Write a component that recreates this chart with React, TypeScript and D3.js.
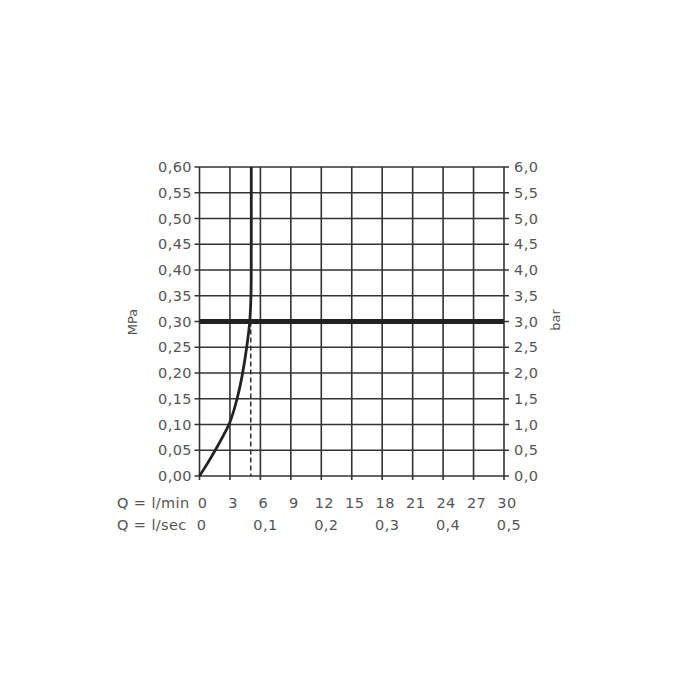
import React from "react";
import * as d3 from "d3";

const flowTicks = [0, 3, 6, 9, 12, 15, 18, 21, 24, 27, 30];
const secTicks = [0, 0.1, 0.2, 0.3, 0.4, 0.5];
const mpaTicks = [0, 0.05, 0.1, 0.15, 0.2, 0.25, 0.3, 0.35, 0.4, 0.45, 0.5, 0.55, 0.6];
const curveQ = [0, 0.8, 1.55, 2.25, 2.9, 3.35, 3.7, 4.0, 4.25, 4.65, 4.95, 5.07, 5.1, 5.1];
const curveP = [0, 0.025, 0.05, 0.075, 0.1, 0.125, 0.15, 0.175, 0.2, 0.25, 0.3, 0.35, 0.45, 0.6];
const refPressure = 0.3;
const refFlow = 5.05;

const fmt = (v: number, d: number) => v.toFixed(d).replace(".", ",");

export default function App() {
  const left = 199.5, right = 504, top = 167, bottom = 476;
  const x = d3.scaleLinear().domain([0, 30]).range([left, right]);
  const y = d3.scaleLinear().domain([0, 0.6]).range([bottom, top]);
  const font = "'DejaVu Sans', sans-serif";
  const grid = "#333";
  const txt = "#555";
  const fs = 14.5;
  const ls = 0.4;
  const line = d3
    .line<number>()
    .x((_, i) => x(curveQ[i]))
    .y((d) => y(d))
    .curve(d3.curveCatmullRom.alpha(0.5));
  return (
    <svg width={700} height={700} style={{ display: "block", position: "absolute", left: 0, top: 0 }}>
      <rect width={700} height={700} fill="#fff" />
      {flowTicks.map((t) => (
        <g key={"v" + t}>
          <line x1={x(t)} x2={x(t)} y1={top} y2={bottom + 4} stroke={grid} strokeWidth={1.6} />
          <text x={x(t) + 3} y={508} fontSize={fs} letterSpacing={ls} fill={txt} textAnchor="middle" fontFamily={font}>
            {t}
          </text>
        </g>
      ))}
      {mpaTicks.map((t) => (
        <g key={"h" + t}>
          <line x1={left - 5} x2={right + 5} y1={y(t)} y2={y(t)} stroke={grid} strokeWidth={1.6} />
          <text x={192} y={y(t) + 5} fontSize={fs} letterSpacing={ls} fill={txt} textAnchor="end" fontFamily={font}>
            {fmt(t, 2)}
          </text>
          <text x={514} y={y(t) + 5} fontSize={fs} letterSpacing={ls} fill={txt} textAnchor="start" fontFamily={font}>
            {fmt(t * 10, 1)}
          </text>
        </g>
      ))}
      {secTicks.map((t) => (
        <text key={"s" + t} x={x(t * 60) + (t === 0 ? 2 : 5)} y={530} fontSize={fs} letterSpacing={ls} fill={txt} textAnchor="middle" fontFamily={font}>
          {t === 0 ? "0" : fmt(t, 1)}
        </text>
      ))}
      <text x={117} y={508} fontSize={fs} letterSpacing={ls} fill={txt} fontFamily={font}>Q = l/min</text>
      <text x={117} y={530} fontSize={fs} letterSpacing={ls} fill={txt} fontFamily={font}>Q = l/sec</text>
      <line x1={x(refFlow)} x2={x(refFlow)} y1={y(refPressure)} y2={bottom} stroke="#333" strokeWidth={1.5} strokeDasharray="5,3" />
      <line x1={left} x2={right} y1={y(refPressure)} y2={y(refPressure)} stroke="#222" strokeWidth={5} />
      <path d={line(curveP) || ""} fill="none" stroke="#222" strokeWidth={2.8} />
      <text transform="translate(137,322) rotate(-90)" fontSize={13} fill={txt} textAnchor="middle" fontFamily={font}>MPa</text>
      <text transform="translate(560,320) rotate(-90)" fontSize={13} fill={txt} textAnchor="middle" fontFamily={font}>bar</text>
    </svg>
  );
}
